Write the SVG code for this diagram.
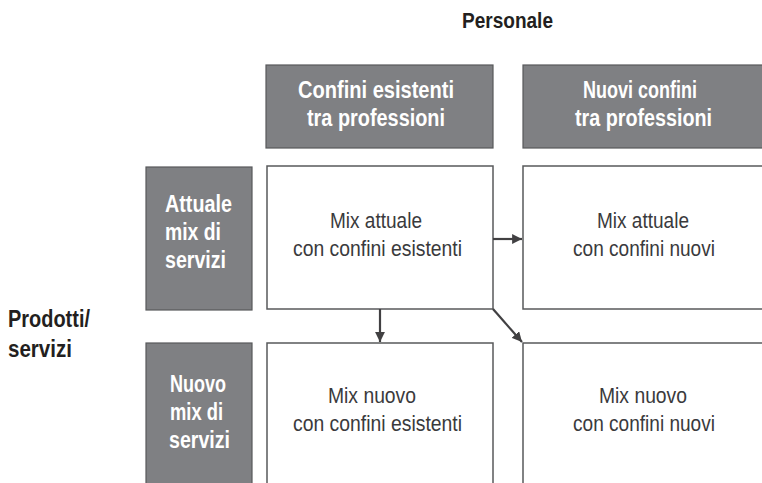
<svg xmlns="http://www.w3.org/2000/svg" width="762" height="483" viewBox="0 0 762 483">
<style>
.hdr{fill:#7f8083;stroke:#58595b;stroke-width:1.2}
.cell{fill:#ffffff;stroke:#58595b;stroke-width:1.5}
.wt{font-family:"Liberation Sans",Arial,sans-serif;font-weight:bold;font-size:23px;fill:#ffffff}
.ct{font-family:"Liberation Sans",Arial,sans-serif;font-size:21.5px;fill:#3a3a3c}
.lab{font-family:"Liberation Sans",Arial,sans-serif;font-weight:bold;font-size:22px;fill:#231f20}
.conn{stroke:#414042;stroke-width:2.2;fill:none;marker-end:url(#ah)}
</style>
<defs>
<marker id="ah" viewBox="0 0 10 10" refX="10" refY="5" markerWidth="4.5" markerHeight="4.5" orient="auto" markerUnits="strokeWidth">
<path d="M0,0 L10,5 L0,10 z" fill="#414042"/>
</marker>
</defs>
<rect width="762" height="483" fill="#ffffff"/>
<g id="title-personale"><text class="lab" x="462" y="28" textLength="91" lengthAdjust="spacingAndGlyphs">Personale</text></g>
<g id="title-prodotti"><text class="lab" x="8" y="327" textLength="82" lengthAdjust="spacingAndGlyphs" style="font-size:24px">Prodotti/</text><text class="lab" x="8" y="357" textLength="64" lengthAdjust="spacingAndGlyphs" style="font-size:24px">servizi</text></g>
<g id="hdr-esistenti"><rect class="hdr" x="266" y="65" width="227" height="83"/><text class="wt" x="298" y="98" textLength="156" lengthAdjust="spacingAndGlyphs">Confini esistenti</text><text class="wt" x="307" y="126" textLength="138" lengthAdjust="spacingAndGlyphs">tra professioni</text></g>
<g id="hdr-nuovi"><rect class="hdr" x="523" y="65" width="245" height="83"/><text class="wt" x="583" y="98" textLength="114" lengthAdjust="spacingAndGlyphs">Nuovi confini</text><text class="wt" x="575" y="126" textLength="137" lengthAdjust="spacingAndGlyphs">tra professioni</text></g>
<g id="row-attuale"><rect class="hdr" x="146" y="167" width="106" height="143"/><text class="wt" x="165" y="212" textLength="67" lengthAdjust="spacingAndGlyphs">Attuale</text><text class="wt" x="165" y="240" textLength="56" lengthAdjust="spacingAndGlyphs">mix di</text><text class="wt" x="165" y="268" textLength="61" lengthAdjust="spacingAndGlyphs">servizi</text></g>
<g id="row-nuovo"><rect class="hdr" x="146" y="343" width="106" height="150"/><text class="wt" x="170" y="392" textLength="56" lengthAdjust="spacingAndGlyphs">Nuovo</text><text class="wt" x="170" y="420" textLength="53" lengthAdjust="spacingAndGlyphs">mix di</text><text class="wt" x="169" y="448" textLength="61" lengthAdjust="spacingAndGlyphs">servizi</text></g>
<g id="cell-attuale-esistenti"><rect class="cell" x="267" y="166" width="226" height="143"/><text class="ct" x="330" y="228" textLength="92" lengthAdjust="spacingAndGlyphs">Mix attuale</text><text class="ct" x="293" y="256" textLength="169" lengthAdjust="spacingAndGlyphs">con confini esistenti</text></g>
<g id="cell-attuale-nuovi"><rect class="cell" x="523" y="166" width="245" height="143"/><text class="ct" x="597" y="228" textLength="92" lengthAdjust="spacingAndGlyphs">Mix attuale</text><text class="ct" x="573" y="256" textLength="142" lengthAdjust="spacingAndGlyphs">con confini nuovi</text></g>
<g id="cell-nuovo-esistenti"><rect class="cell" x="267" y="343" width="226" height="150"/><text class="ct" x="328" y="403" textLength="88" lengthAdjust="spacingAndGlyphs">Mix nuovo</text><text class="ct" x="293" y="431" textLength="169" lengthAdjust="spacingAndGlyphs">con confini esistenti</text></g>
<g id="cell-nuovo-nuovi"><rect class="cell" x="523" y="343" width="245" height="150"/><text class="ct" x="599" y="403" textLength="88" lengthAdjust="spacingAndGlyphs">Mix nuovo</text><text class="ct" x="573" y="431" textLength="142" lengthAdjust="spacingAndGlyphs">con confini nuovi</text></g>
<g id="connectors">
<line class="conn" x1="493" y1="239" x2="522" y2="239"/>
<line class="conn" x1="380" y1="309" x2="380" y2="342"/>
<line class="conn" x1="493" y1="309" x2="522" y2="342"/>
</g>
</svg>
